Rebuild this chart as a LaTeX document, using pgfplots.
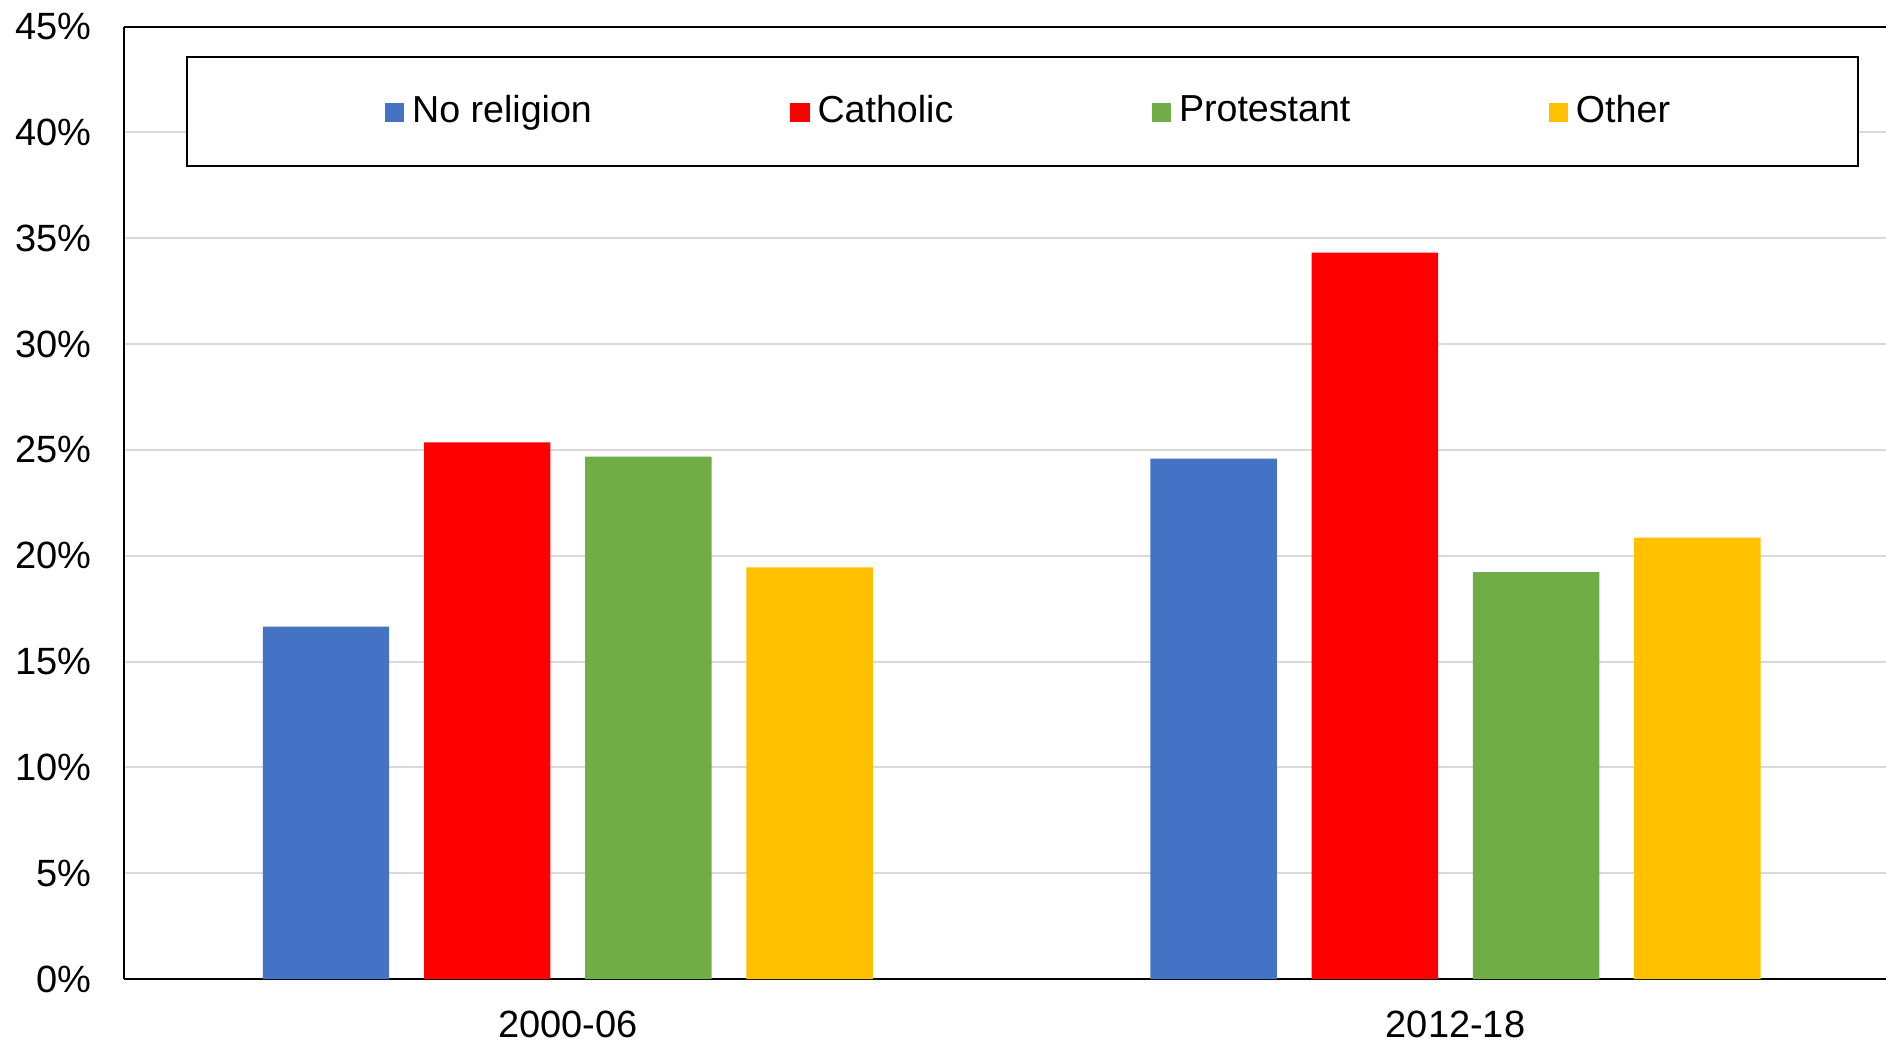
\documentclass[border=0pt]{standalone}
\usepackage{pgfplots}
\pgfplotsset{compat=1.18}
\usepackage{fontspec}
\setmainfont{Liberation Sans}
\definecolor{cBlue}{HTML}{4472C4}
\definecolor{cRed}{HTML}{FF0000}
\definecolor{cGreen}{HTML}{70AD47}
\definecolor{cYellow}{HTML}{FFC000}
\definecolor{cGrid}{HTML}{D9D9D9}
\begin{document}
\begin{tikzpicture}
\fontsize{9.5}{11.4}\selectfont
\begin{axis}[
  at={(31pt,15.5pt)}, anchor=south west,
  scale only axis, width=440.5pt, height=238.1pt,
  xmin=-0.5, xmax=1.485, ymin=0, ymax=45,
  axis x line*=box, axis y line*=left,
  axis line style={black, line width=0.5pt},
  ybar=8.7pt, bar width=31.6pt,
  xtick={0,1}, xticklabels={2000-06,2012-18},
  ytick={0,5,...,45},
  yticklabel={\pgfmathprintnumber{\tick}\%},
  /pgf/number format/assume math mode=true,
  major tick length=0pt,
  ymajorgrids, grid style={color=cGrid, line width=0.5pt},
  tick label style={font=\fontsize{9.5}{11.4}\selectfont, black},
  yticklabel style={xshift=-4.8pt},
  xticklabel style={yshift=-4.6pt},
  legend columns=4,
  legend image code/.code={\path (-4.5pt,0pt); \fill[#1] (0pt,-2.6pt) rectangle (4.8pt,2.2pt);},
  legend style={at={(rel axis cs:0.0352,0.969)}, anchor=north west,
    draw=black, line width=0.5pt, inner xsep=45pt, inner ysep=7.55pt,
    font=\fontsize{9.4}{11.3}\selectfont,
    /tikz/every odd column/.append style={column sep=0pt},
    /tikz/every even column/.append style={column sep=43.1pt}},
  legend cell align=left,
]
\addplot[draw=none, fill=cBlue] coordinates {(0,16.65) (1,24.59)};
\addplot[draw=none, fill=cRed] coordinates {(0,25.36) (1,34.32)};
\addplot[draw=none, fill=cGreen] coordinates {(0,24.68) (1,19.22)};
\addplot[draw=none, fill=cYellow] coordinates {(0,19.45) (1,20.85)};
\legend{No religion, Catholic, Protestant, Other}
\end{axis}
\pgfresetboundingbox
\path (0,0) rectangle (471.5pt,260.25pt);
\end{tikzpicture}
\end{document}
